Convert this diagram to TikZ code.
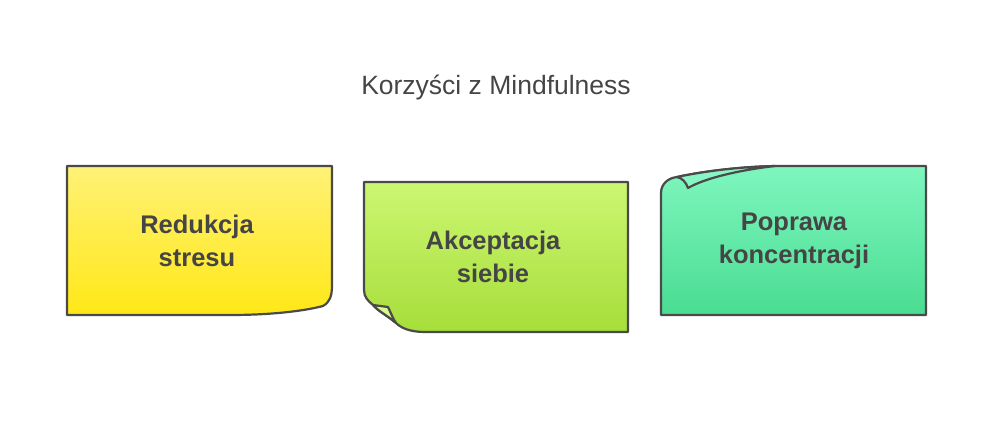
\documentclass[tikz,border=0pt]{standalone}
\usepackage{fontspec}
\setmainfont{Liberation Sans}
\definecolor{strokec}{HTML}{4A4A4A}
\definecolor{textc}{HTML}{454545}
\definecolor{yelT}{HTML}{FFF176}
\definecolor{yelB}{HTML}{FFE816}
\definecolor{limT}{HTML}{CCF672}
\definecolor{limB}{HTML}{A6DE3A}
\definecolor{limF}{HTML}{D8F890}
\definecolor{minT}{HTML}{7EF6BE}
\definecolor{minB}{HTML}{4ADC92}
\definecolor{minF}{HTML}{88F5C4}
\tikzset{
  note/.style={draw=strokec, line width=2.2pt, line join=round},
  fold/.style={draw=strokec, line width=2.2pt, line join=round, line cap=round},
  lbl/.style={align=center, text=textc, font=\bfseries\fontsize{25.5}{33}\selectfont},
  ttl/.style={text=textc, font=\fontsize{26.5}{30}\selectfont}
}
\begin{document}
\begin{tikzpicture}[x=1pt,y=-1pt]
\useasboundingbox (0,0) rectangle (993,432);
\node[ttl] (title) at (496,87) {Korzyści z Mindfulness};
% box 1
\path[note, top color=yelT, bottom color=yelB]
  (67,166) -- (332,166) -- (332,285) .. controls (332,296) and (330,302) .. (323,306)
  .. controls (300,312) and (265,315) .. (230,315) -- (67,315) -- cycle;
\node[lbl] (b1) at (197,241) {Redukcja\\stresu};
% box 2
\path[note, top color=limT, bottom color=limB]
  (364,182) -- (628,182) -- (628,332) -- (425,332) .. controls (410,332) and (401,328) .. (396,323)
  .. controls (388,316) and (378,311) .. (373,305) .. controls (368,301) and (364,297) .. (364,290) -- cycle;
\path[fold, fill=limF]
  (373,305) -- (388,307) .. controls (391,313) and (393,319) .. (396,323)
  .. controls (388,316) and (378,311) .. (373,305) -- cycle;
\node[lbl] (b2) at (493,257) {Akceptacja\\siebie};
% box 3
\path[note, top color=minT, bottom color=minB]
  (926,166) -- (926,315) -- (661,315) -- (661,193) .. controls (661,184) and (668,178) .. (677,177)
  .. controls (700,172) and (735,167) .. (775,166) -- cycle;
\path[fold, fill=minF]
  (677,177) .. controls (700,172) and (735,167) .. (775,166)
  .. controls (740,170) and (705,178) .. (688,188) .. controls (686,182) and (682,178) .. (677,177) -- cycle;
\node[lbl] (b3) at (794,241) {Poprawa\\koncentracji};
\end{tikzpicture}
\end{document}
